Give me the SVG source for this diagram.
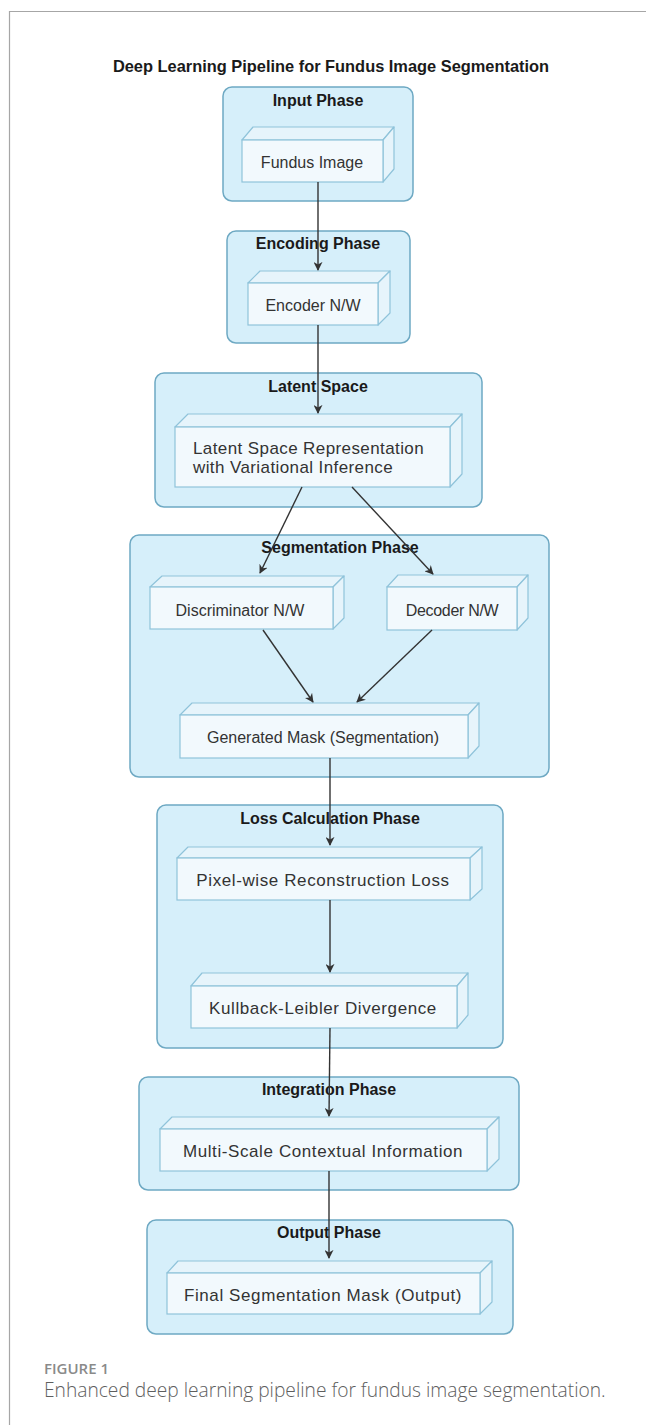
<svg xmlns="http://www.w3.org/2000/svg" width="646" height="1425" viewBox="0 0 646 1425">
<style>
.frame{stroke:#a6a6a6;stroke-width:1.2;fill:none}
.title{font-family:"Liberation Sans",Arial,sans-serif;font-weight:bold;font-size:16.4px;fill:#1a1a1a;text-anchor:middle}
.cont{fill:#d6effa;stroke:#6ea9c3;stroke-width:1.5}
.clabel{font-family:"Liberation Sans",Arial,sans-serif;font-weight:bold;font-size:16px;fill:#1a1a1a;text-anchor:middle}
.front{fill:#f2f9fd;stroke:#8fc3da;stroke-width:1.2}
.side{fill:#e6f4fb;stroke:#8fc3da;stroke-width:1.2;stroke-linejoin:round}
.nt{font-family:"Liberation Sans",Arial,sans-serif;font-size:16px;fill:#333;text-anchor:middle}
.ns{font-family:"Liberation Sans",Arial,sans-serif;font-size:17px;fill:#333;text-anchor:middle;letter-spacing:0.6px}
.conn{stroke:#333;stroke-width:1.4;fill:none;marker-end:url(#arr)}
.cap1{font-family:"Open Sans",sans-serif;font-weight:600;font-size:15px;fill:#8a8a8a}
.cap2{font-family:"Open Sans",sans-serif;font-weight:300;font-size:19.2px;fill:#5e5e5e}
</style>
<defs>
<marker id="arr" viewBox="0 0 10 10" refX="9" refY="5" markerWidth="9" markerHeight="9" markerUnits="userSpaceOnUse" orient="auto">
<path d="M0,0 L10,5 L0,10 L3,5 Z" fill="#333"/>
</marker>
</defs>
<rect width="646" height="1425" fill="#ffffff"/>
<path class="frame" d="M9.5,1425 V11.5 H646"/>
<text class="title" x="331" y="72">Deep Learning Pipeline for Fundus Image Segmentation</text>

<g id="input-phase">
<rect class="cont" x="223" y="87" width="190" height="114" rx="9"/>
<text class="clabel" x="318" y="106">Input Phase</text>
</g>
<g id="encoding-phase">
<rect class="cont" x="227" y="231" width="183" height="112" rx="9"/>
<text class="clabel" x="318" y="249">Encoding Phase</text>
</g>
<g id="latent-space">
<rect class="cont" x="155" y="373" width="327" height="134" rx="9"/>
<text class="clabel" x="318" y="392">Latent Space</text>
</g>
<g id="segmentation-phase">
<rect class="cont" x="130" y="535" width="419" height="242" rx="9"/>
<text class="clabel" x="340" y="553">Segmentation Phase</text>
</g>
<g id="loss-phase">
<rect class="cont" x="157" y="805" width="346" height="243" rx="9"/>
<text class="clabel" x="330" y="824">Loss Calculation Phase</text>
</g>
<g id="integration-phase">
<rect class="cont" x="139" y="1077" width="380" height="113" rx="9"/>
<text class="clabel" x="329" y="1095">Integration Phase</text>
</g>
<g id="output-phase">
<rect class="cont" x="147" y="1220" width="366" height="114" rx="9"/>
<text class="clabel" x="329" y="1238">Output Phase</text>
</g>

<g id="fundus-image">
<polygon class="side" points="242,140 253,127 394,127 383,140"/>
<polygon class="side" points="383,140 394,127 394,169 383,182"/>
<rect class="front" x="242" y="140" width="141" height="42"/>
<text class="nt" x="312" y="167.5">Fundus Image</text>
</g>
<g id="encoder">
<polygon class="side" points="248,283 260,271 390,271 378,283"/>
<polygon class="side" points="378,283 390,271 390,313 378,325"/>
<rect class="front" x="248" y="283" width="130" height="42"/>
<text class="nt" x="313" y="310.5" font-size="15.5">Encoder N/W</text>
</g>
<g id="latent-repr">
<polygon class="side" points="175,427 188,414 462,414 450,427"/>
<polygon class="side" points="450,427 462,414 462,474 450,487"/>
<rect class="front" x="175" y="427" width="275" height="60"/>
<text font-family="Liberation Sans, Arial, sans-serif" font-size="17" fill="#333" letter-spacing="0.4" x="193" y="454">Latent Space Representation</text>
<text font-family="Liberation Sans, Arial, sans-serif" font-size="17" fill="#333" letter-spacing="0.4" x="193" y="473">with Variational Inference</text>
</g>
<g id="discriminator">
<polygon class="side" points="150,587 162,576 344,576 333,587"/>
<polygon class="side" points="333,587 344,576 344,618 333,629"/>
<rect class="front" x="150" y="587" width="183" height="42"/>
<text class="nt" x="240" y="616" font-size="17.5">Discriminator N/W</text>
</g>
<g id="decoder">
<polygon class="side" points="387,587 398,575 528,575 517,587"/>
<polygon class="side" points="517,587 528,575 528,618 517,630"/>
<rect class="front" x="387" y="587" width="130" height="43"/>
<text class="nt" x="452" y="616" font-size="15.5" letter-spacing="-0.3">Decoder N/W</text>
</g>
<g id="generated-mask">
<polygon class="side" points="180,715 192,703 479,703 468,715"/>
<polygon class="side" points="468,715 479,703 479,746 468,758"/>
<rect class="front" x="180" y="715" width="288" height="43"/>
<text class="nt" x="323" y="743" font-size="17">Generated Mask (Segmentation)</text>
</g>
<g id="pixel-loss">
<polygon class="side" points="177,858 188,847 482,847 470,858"/>
<polygon class="side" points="470,858 482,847 482,889 470,900"/>
<rect class="front" x="177" y="858" width="293" height="42"/>
<text class="ns" x="323" y="886">Pixel-wise Reconstruction Loss</text>
</g>
<g id="kl-divergence">
<polygon class="side" points="191,986 202,973 468,973 457,986"/>
<polygon class="side" points="457,986 468,973 468,1015 457,1028"/>
<rect class="front" x="191" y="986" width="266" height="42"/>
<text class="ns" x="323" y="1014">Kullback-Leibler Divergence</text>
</g>
<g id="multi-scale">
<polygon class="side" points="160,1129 172,1117 499,1117 487,1129"/>
<polygon class="side" points="487,1129 499,1117 499,1159 487,1171"/>
<rect class="front" x="160" y="1129" width="327" height="42"/>
<text class="ns" x="323" y="1157" letter-spacing="0.9">Multi-Scale Contextual Information</text>
</g>
<g id="final-mask">
<polygon class="side" points="167,1273 178,1261 492,1261 480,1273"/>
<polygon class="side" points="480,1273 492,1261 492,1302 480,1314"/>
<rect class="front" x="167" y="1273" width="313" height="41"/>
<text class="ns" x="323" y="1301">Final Segmentation Mask (Output)</text>
</g>

<g id="connectors">
<line class="conn" x1="318" y1="182" x2="318" y2="270"/>
<line class="conn" x1="318" y1="325" x2="318" y2="413"/>
<line class="conn" x1="302" y1="487" x2="260" y2="573"/>
<line class="conn" x1="352" y1="487" x2="433" y2="574"/>
<line class="conn" x1="263" y1="630" x2="313" y2="702"/>
<line class="conn" x1="432" y1="630" x2="357" y2="702"/>
<line class="conn" x1="330" y1="758" x2="330" y2="845"/>
<line class="conn" x1="330" y1="900" x2="330" y2="972"/>
<line class="conn" x1="330" y1="1028" x2="329" y2="1116"/>
<line class="conn" x1="329" y1="1171" x2="329" y2="1258"/>
</g>

<text class="cap1" x="44" y="1374">FIGURE 1</text>
<text class="cap2" x="44" y="1397">Enhanced deep learning pipeline for fundus image segmentation.</text>
</svg>
